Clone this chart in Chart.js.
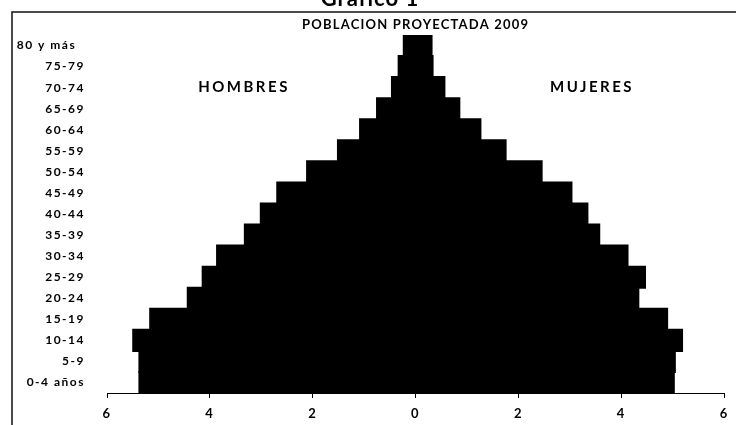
<!DOCTYPE html>
<html>
<head>
<meta charset="utf-8">
<script src="https://cdn.jsdelivr.net/npm/chart.js@4/dist/chart.umd.min.js"></script>
<style>
  html, body { margin: 0; padding: 0; background: #fff; }
  #wrap { width: 736px; height: 425px; position: relative; }
</style>
</head>
<body>
<div id="wrap"><canvas id="pyr"></canvas></div>
<script>
// grupos de edad, de arriba hacia abajo
const ageGroups = ['80 y más', '75-79', '70-74', '65-69', '60-64', '55-59', '50-54', '45-49',
  '40-44', '35-39', '30-34', '25-29', '20-24', '15-19', '10-14', '5-9', '0-4 años'];

// porcentaje de la población
const hombres = [0.23, 0.33, 0.46, 0.75, 1.08, 1.51, 2.11, 2.69,
  3.01, 3.32, 3.86, 4.14, 4.43, 5.16, 5.49, 5.37, 5.37];
const mujeres = [0.31, 0.33, 0.56, 0.85, 1.26, 1.75, 2.45, 3.03,
  3.34, 3.57, 4.12, 4.46, 4.33, 4.89, 5.18, 5.04, 5.02];

const xTicks = [-6, -4, -2, 0, 2, 4, 6];

const FONT = 'Lato, "Open Sans", sans-serif';

const extras = {
  id: 'extras',
  beforeDraw(chart) {
    chart.ctx.letterSpacing = '1.5px';
  },
  afterDraw(chart) {
    const ctx = chart.ctx;
    const area = chart.chartArea;
    ctx.save();
    // marco
    ctx.strokeStyle = '#111';
    ctx.lineWidth = 1.5;
    ctx.beginPath();
    ctx.moveTo(12, 425);
    ctx.lineTo(12, 12);
    ctx.lineTo(736, 12);
    ctx.stroke();

    ctx.fillStyle = '#000';
    ctx.textBaseline = 'alphabetic';
    ctx.textAlign = 'center';
    ctx.letterSpacing = '1px';
    ctx.font = 'bold 22px ' + FONT;
    ctx.fillText('Gráfico 1', 370, 6);

    ctx.letterSpacing = '1.2px';
    ctx.font = 'bold 13px ' + FONT;
    ctx.textBaseline = 'middle';
    ctx.fillText('POBLACION PROYECTADA 2009', (area.left + area.right) / 2, 25);

    ctx.letterSpacing = '2.5px';
    ctx.font = 'bold 15px ' + FONT;
    ctx.fillText('HOMBRES', 244, 87);
    ctx.fillText('MUJERES', 592, 87);
    ctx.restore();
  }
};

new Chart(document.getElementById('pyr'), {
  type: 'bar',
  data: {
    labels: ageGroups,
    datasets: [
      { label: 'Hombres', data: hombres.map(v => -v), backgroundColor: '#000', borderWidth: 0,
        inflateAmount: 1, barPercentage: 1, categoryPercentage: 1 },
      { label: 'Mujeres', data: mujeres, backgroundColor: '#000', borderWidth: 0,
        inflateAmount: 1, barPercentage: 1, categoryPercentage: 1 }
    ]
  },
  options: {
    indexAxis: 'y',
    responsive: true,
    maintainAspectRatio: false,
    animation: false,
    devicePixelRatio: 1,
    layout: { padding: { left: 12, right: 9, top: 35, bottom: 0 } },
    plugins: {
      legend: { display: false },
      title: { display: false },
      tooltip: { enabled: false }
    },
    scales: {
      x: {
        stacked: true,
        min: xTicks[0],
        max: xTicks[xTicks.length - 1],
        afterBuildTicks: s => { s.ticks = xTicks.map(v => ({ value: v })); },
        afterFit: s => { s.height = 32; },
        ticks: {
          color: '#000',
          font: { family: FONT, size: 13, weight: 'bold' },
          padding: 8,
          maxRotation: 0,
          callback: v => Math.abs(v)
        },
        grid: { drawOnChartArea: false, drawTicks: true, tickLength: 5, color: '#000', lineWidth: 1 },
        border: { display: true, color: '#000', width: 1 }
      },
      y: {
        stacked: true,
        afterFit: s => { s.width = 95; },
        ticks: {
          color: '#000',
          font: { family: FONT, size: 12, weight: 'bold' },
          padding: 14,
          // la primera etiqueta aparece corrida a la izquierda en el original
          callback: (v, i) => i === 0 ? ageGroups[i] + '  ' : ageGroups[i]
        },
        grid: { display: false },
        border: { display: false }
      }
    }
  },
  plugins: [extras]
});
</script>
</body>
</html>
